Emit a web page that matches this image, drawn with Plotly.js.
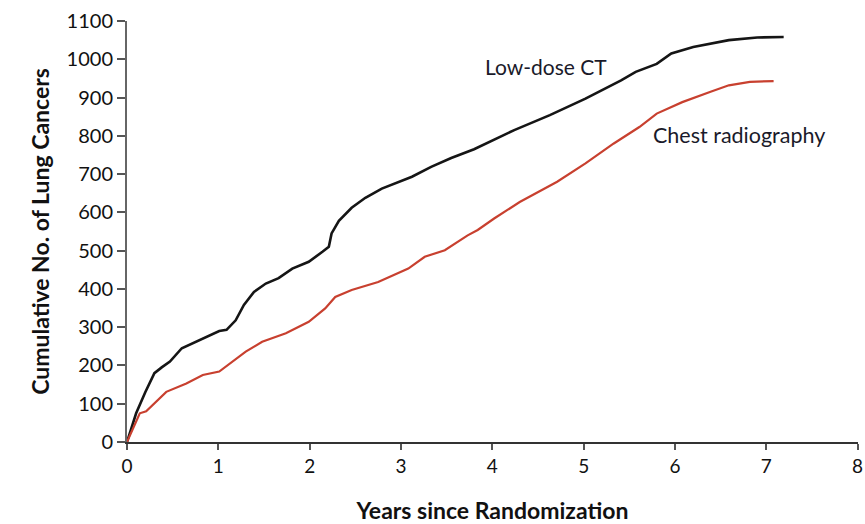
<!DOCTYPE html>
<html>
<head>
<meta charset="utf-8">
<script src="https://cdn.plot.ly/plotly-3.0.1.min.js"></script>
<style>html,body{margin:0;padding:0;background:#fff}#chart{width:865px;height:524px}</style>
</head>
<body>
<div id="chart"></div>
<script>
// Low-dose CT cumulative lung cancers
const ctYears = [0, 0.05, 0.1, 0.2, 0.3, 0.38, 0.47, 0.6, 0.72, 0.9, 1.01, 1.09, 1.19, 1.28, 1.39, 1.52, 1.66, 1.81, 1.99, 2.14, 2.21, 2.24, 2.32, 2.46, 2.61, 2.79, 3.01, 3.12, 3.33, 3.55, 3.8, 4.08, 4.24, 4.63, 5.02, 5.41, 5.57, 5.8, 5.96, 6.2, 6.59, 6.9, 7.19];
const ctCount = [0, 40, 75, 130, 180, 195, 210, 245, 258, 279, 290, 293, 318, 358, 392, 414, 428, 453, 471, 497, 510, 545, 578, 612, 638, 662, 684, 693, 719, 742, 765, 797, 815, 854, 897, 945, 967, 988, 1015, 1032, 1050, 1057, 1058];
// Chest radiography cumulative lung cancers
const xrYears = [0, 0.07, 0.14, 0.21, 0.32, 0.43, 0.65, 0.83, 1.01, 1.16, 1.3, 1.48, 1.74, 1.99, 2.17, 2.28, 2.46, 2.75, 2.93, 3.08, 3.26, 3.48, 3.73, 3.84, 4.02, 4.3, 4.71, 5.02, 5.33, 5.61, 5.8, 6.08, 6.39, 6.59, 6.82, 7.08];
const xrCount = [0, 40, 75, 80, 105, 131, 153, 175, 184, 210, 236, 262, 284, 314, 349, 379, 397, 418, 436, 453, 484, 501, 540, 554, 584, 627, 680, 728, 780, 823, 858, 888, 915, 932, 941, 943];
const seriesNames = ["Low-dose CT", "Chest radiography"];
const xTicks = [0, 1, 2, 3, 4, 5, 6, 7, 8];
const yTicks = [0, 100, 200, 300, 400, 500, 600, 700, 800, 900, 1000, 1100];

const traces = [
  {x: ctYears, y: ctCount, name: seriesNames[0], mode: "lines", line: {color: "#151515", width: 2.6}},
  {x: xrYears, y: xrCount, name: seriesNames[1], mode: "lines", line: {color: "#c8402f", width: 2.2}}
];

const fontFam = "Lato, 'Open Sans', sans-serif";
const layout = {
  width: 865, height: 524,
  margin: {l: 127, r: 7, t: 21, b: 82},
  paper_bgcolor: "#fff", plot_bgcolor: "#fff",
  showlegend: false,
  font: {family: fontFam, color: "#111"},
  xaxis: {
    range: [0, 8.004], tickvals: xTicks, ticktext: xTicks.map(String),
    ticklabeloverflow: "allow",
    showgrid: false, zeroline: false, showline: true, linecolor: "#333", linewidth: 2,
    ticks: "outside", ticklen: 6, tickwidth: 2, tickcolor: "#555",
    tickfont: {size: 19, family: fontFam, color: "#111"},
    title: {text: "<b>Years since Randomization</b>", font: {size: 23, family: fontFam, color: "#111"}, standoff: 30},
    fixedrange: true
  },
  yaxis: {
    range: [0, 1100], tickvals: yTicks, ticktext: yTicks.map(String),
    ticklabeloverflow: "allow",
    showgrid: false, zeroline: false, showline: true, linecolor: "#666", linewidth: 2,
    ticks: "outside", ticklen: 8, tickwidth: 2, tickcolor: "#555",
    tickfont: {size: 20, family: fontFam, color: "#111"},
    title: {text: "<b>Cumulative No. of Lung Cancers</b>", font: {size: 23, family: fontFam, color: "#111"}, standoff: 11},
    fixedrange: true
  },
  annotations: [
    {x: 4.59, y: 982, xref: "x", yref: "y", text: seriesNames[0], showarrow: false, font: {size: 21, family: fontFam, color: "#1a1a2a"}},
    {x: 6.70, y: 801, xref: "x", yref: "y", text: seriesNames[1], showarrow: false, font: {size: 21.5, family: fontFam, color: "#1a1a2a"}}
  ]
};
Plotly.newPlot("chart", traces, layout, {displayModeBar: false, staticPlot: true});
</script>
</body>
</html>
